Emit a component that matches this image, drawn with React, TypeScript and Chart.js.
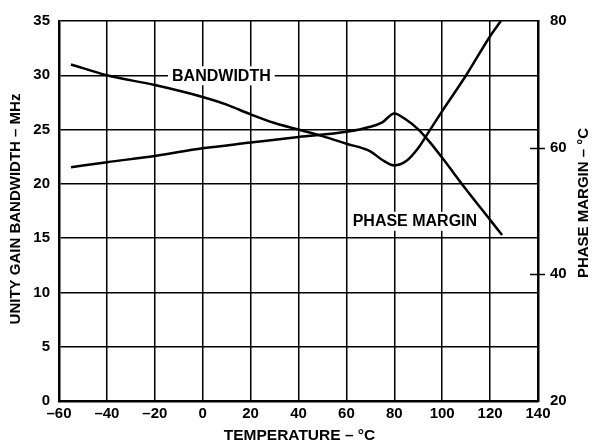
import React, { useEffect, useRef } from "react";
import { Chart, registerables } from "chart.js";

Chart.register(...registerables);

// Temperature (°C) sample points for each curve
const bandwidthTemps = [-55, -40, -20, 0, 10, 20, 30, 40, 50, 60, 70, 75, 80, 85, 90, 95, 100, 110, 120, 124.5];
// Unity gain bandwidth, MHz (left axis)
const bandwidthMHz = [31.0, 30.0, 29.1, 28.0, 27.3, 26.4, 25.6, 25.0, 24.4, 23.7, 23.0, 22.2, 21.7, 22.1, 23.3, 25.0, 26.7, 30.0, 33.6, 35.0];

const phaseTemps = [-55, -40, -20, 0, 20, 40, 60, 70, 75, 80, 85, 90, 95, 100, 110, 120, 125];
// Phase margin, degrees (right axis)
const phaseDeg = [56.9, 57.7, 58.7, 59.9, 60.8, 61.7, 62.5, 63.3, 64.0, 65.4, 64.4, 62.9, 60.8, 58.4, 53.4, 48.6, 46.2];

const xTitle = "TEMPERATURE – °C";
const yTitle = "UNITY GAIN BANDWIDTH – MHz";
const y2Title = "PHASE MARGIN – °C";
const bandwidthLabel = "BANDWIDTH";
const phaseLabel = "PHASE MARGIN";
const rightTickMarks = [40, 60];

const FONT = '"Liberation Sans", Arial, Helvetica, sans-serif';

export default function App() {
  const ref = useRef<HTMLCanvasElement | null>(null);

  useEffect(() => {
    const canvas = ref.current;
    if (!canvas) return;

    const decor = {
      id: "decor",
      beforeDatasetsDraw(chart: any) {
        const ctx = chart.ctx;
        const x = chart.scales.x;
        const y = chart.scales.y;
        ctx.save();
        ctx.font = `bold 16px ${FONT}`;
        ctx.textAlign = "center";
        ctx.textBaseline = "middle";
        const labels = [
          { t: bandwidthLabel, cx: x.getPixelForValue(7.8), cy: y.getPixelForValue(30) },
          { t: phaseLabel, cx: x.getPixelForValue(88.6), cy: y.getPixelForValue(16.6) },
        ];
        for (const l of labels) {
          const w = ctx.measureText(l.t).width;
          ctx.fillStyle = "#fff";
          ctx.fillRect(l.cx - w / 2 - 4, l.cy - 9, w + 8, 19);
          ctx.fillStyle = "#000";
          ctx.fillText(l.t, l.cx, l.cy + 1);
        }
        ctx.restore();
      },
      afterDraw(chart: any) {
        const ctx = chart.ctx;
        const area = chart.chartArea;
        const y2 = chart.scales.y2;
        ctx.save();
        ctx.strokeStyle = "#000";
        ctx.lineWidth = 1.5;
        for (const v of rightTickMarks) {
          const py = Math.round(y2.getPixelForValue(v)) + 0.5;
          ctx.beginPath();
          ctx.moveTo(area.right - 8, py);
          ctx.lineTo(area.right + 7, py);
          ctx.stroke();
        }
        ctx.fillStyle = "#000";
        ctx.textAlign = "center";
        ctx.textBaseline = "middle";
        ctx.font = `bold 15.5px ${FONT}`;
        ctx.fillText(xTitle, (area.left + area.right) / 2 + 1, 436);
        ctx.font = `bold 15px ${FONT}`;
        ctx.save();
        ctx.translate(16, 209);
        ctx.rotate(-Math.PI / 2);
        ctx.fillText(yTitle, 0, 0);
        ctx.restore();
        ctx.save();
        ctx.translate(584, 203);
        ctx.rotate(-Math.PI / 2);
        ctx.fillText(y2Title, 0, 0);
        ctx.restore();
        ctx.restore();
      },
    };

    const tickFont = { family: FONT, size: 15, weight: "bold" as const };

    const chart = new Chart(canvas, {
      type: "line",
      data: {
        datasets: [
          {
            label: bandwidthLabel,
            data: bandwidthTemps.map((t, i) => ({ x: t, y: bandwidthMHz[i] })),
            yAxisID: "y",
            borderColor: "#000",
            borderWidth: 2.5,
            pointRadius: 0,
            cubicInterpolationMode: "monotone",
            fill: false,
          },
          {
            label: phaseLabel,
            data: phaseTemps.map((t, i) => ({ x: t, y: phaseDeg[i] })),
            yAxisID: "y2",
            borderColor: "#000",
            borderWidth: 2.5,
            pointRadius: 0,
            cubicInterpolationMode: "monotone",
            fill: false,
          },
        ],
      },
      options: {
        animation: false,
        responsive: false,
        devicePixelRatio: 1,
        layout: { padding: { top: 17, left: 0, right: 0, bottom: 0 } },
        plugins: { legend: { display: false }, tooltip: { enabled: false } },
        scales: {
          x: {
            type: "linear",
            min: -60,
            max: 140,
            afterFit: (s: any) => { s.height = 43; },
            ticks: {
              stepSize: 20,
              autoSkip: false,
              maxRotation: 0,
              padding: 4,
              color: "#000",
              font: tickFont,
              callback: (v: any) => (Number(v) < 0 ? "–" + Math.abs(Number(v)) : String(v)),
            },
            grid: { color: "#000", lineWidth: 1.5, drawTicks: false },
            border: { display: true, color: "#000", width: 2.5 },
          },
          y: {
            type: "linear",
            position: "left",
            min: 0,
            max: 35,
            afterFit: (s: any) => { s.width = 59; },
            ticks: { stepSize: 5, padding: 9, color: "#000", font: tickFont },
            grid: { color: "#000", lineWidth: 1.5, drawTicks: false },
            border: { display: true, color: "#000", width: 2.5 },
          },
          y2: {
            type: "linear",
            position: "right",
            min: 20,
            max: 80,
            afterFit: (s: any) => { s.width = 54; },
            ticks: { stepSize: 20, padding: 12, color: "#000", font: tickFont },
            grid: { drawOnChartArea: false, drawTicks: false },
            border: { display: true, color: "#000", width: 2.5 },
          },
        },
      },
      plugins: [decor],
    });

    return () => chart.destroy();
  }, []);

  return (
    <div style={{ position: "fixed", left: 0, top: 0, width: 592, height: 444, background: "#fff" }}>
      <canvas ref={ref} width={592} height={444} style={{ display: "block" }} />
    </div>
  );
}
